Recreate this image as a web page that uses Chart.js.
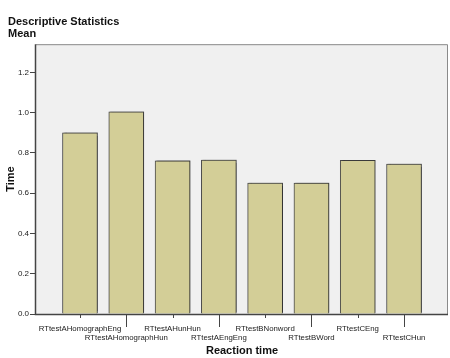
<!DOCTYPE html>
<html>
<head>
<meta charset="utf-8">
<script src="https://cdn.jsdelivr.net/npm/chart.js@4/dist/chart.umd.min.js"></script>
<style>
  html, body { margin: 0; padding: 0; background: #fff; }
  #wrap { width: 450px; height: 358px; }
</style>
</head>
<body>
<div id="wrap"><canvas id="myChart" width="450" height="358"></canvas></div>
<script>
// reading of the reference chart
const categories = ['RTtestAHomographEng', 'RTtestAHomographHun', 'RTtestAHunHun', 'RTtestAEngEng',
  'RTtestBNonword', 'RTtestBWord', 'RTtestCEng', 'RTtestCHun'];
const means = [0.900, 1.004, 0.761, 0.764, 0.650, 0.650, 0.763, 0.744];
const yTicks = [0.0, 0.2, 0.4, 0.6, 0.8, 1.0, 1.2];

const FONT = 'Liberation Sans, Arial, sans-serif';

// plot background, frame and the staggered x tick marks (SPSS style)
const frame = {
  id: 'frame',
  beforeDatasetsDraw(chart) {
    const { ctx, chartArea: a } = chart;
    ctx.save();
    ctx.fillStyle = '#f0f0f0';
    ctx.fillRect(a.left, a.top, a.right - a.left, a.bottom - a.top);
    ctx.restore();
    // soft shadow for bars
    ctx.save();
    ctx.shadowColor = 'rgba(0,0,0,0.35)';
    ctx.shadowOffsetX = 1.5;
    ctx.shadowOffsetY = -1;
    ctx.shadowBlur = 1.5;
  },
  afterDatasetsDraw(chart) {
    chart.ctx.restore();
  },
  afterDraw(chart) {
    const { ctx, chartArea: a, scales } = chart;
    ctx.save();
    ctx.strokeStyle = '#8a8a8a';
    ctx.lineWidth = 1;
    ctx.beginPath();
    ctx.moveTo(a.left, a.top + 0.5);
    ctx.lineTo(a.right - 0.5, a.top + 0.5);
    ctx.lineTo(a.right - 0.5, a.bottom);
    ctx.stroke();
    ctx.strokeStyle = '#444';
    ctx.lineWidth = 1.5;
    ctx.beginPath();
    ctx.moveTo(a.left - 0.5, a.top);
    ctx.lineTo(a.left - 0.5, a.bottom + 0.5);
    ctx.lineTo(a.right, a.bottom + 0.5);
    ctx.stroke();
    ctx.lineWidth = 1;
    categories.forEach((c, i) => {
      const x = Math.round(scales.x.getPixelForValue(i)) + 0.5;
      ctx.beginPath();
      ctx.moveTo(x, a.bottom);
      ctx.lineTo(x, a.bottom + (i % 2 ? 13 : 4));
      ctx.stroke();
    });
    ctx.restore();
  }
};

new Chart(document.getElementById('myChart'), {
  type: 'bar',
  data: {
    datasets: [{
      label: 'Mean',
      data: means.map((v, i) => ({ x: i, y: v })),
      backgroundColor: '#d3ce97',
      borderColor: '#4a4a4a',
      borderWidth: 1,
      barThickness: 35
    }]
  },
  plugins: [frame],
  options: {
    responsive: false,
    animation: false,
    devicePixelRatio: 1,
    layout: { padding: { left: 8, right: 2, top: 0, bottom: 0 } },
    plugins: {
      legend: { display: false },
      tooltip: { enabled: false },
      title: {
        display: true,
        text: ['Descriptive Statistics', 'Mean'],
        align: 'start',
        color: '#111',
        font: { family: FONT, size: 11, weight: 'bold', lineHeight: 1.1 },
        padding: { top: 16, bottom: 4 }
      }
    },
    scales: {
      x: {
        type: 'linear',
        offset: false,
        min: -0.95,
        max: 7.95,
        afterFit(s) { s.height = 44; },
        afterBuildTicks(s) { s.ticks = categories.map((c, i) => ({ value: i })); },
        grid: { display: false },
        border: { display: false },
        ticks: {
          autoSkip: false,
          maxRotation: 0,
          minRotation: 0,
          padding: 3,
          color: '#1a1a1a',
          font: { family: FONT, size: 7.8, lineHeight: 1.1 },
          callback: (v, i) => (i % 2 ? ['', categories[i]] : categories[i])
        },
        title: {
          display: true,
          text: 'Reaction time',
          color: '#111',
          font: { family: FONT, size: 11, weight: 'bold' },
          padding: { top: 0, bottom: 0 }
        }
      },
      y: {
        min: 0,
        max: 1.34,
        afterFit(s) { s.width = 28; },
        afterBuildTicks(s) { s.ticks = yTicks.map(v => ({ value: v })); },
        grid: { drawOnChartArea: false, tickLength: 6, color: '#444' },
        border: { display: false },
        ticks: {
          padding: 1,
          color: '#1a1a1a',
          font: { family: FONT, size: 8 },
          callback: v => v.toFixed(1)
        },
        title: {
          display: true,
          text: 'Time',
          color: '#111',
          font: { family: FONT, size: 11, weight: 'bold' },
          padding: { top: -4, bottom: 4 }
        }
      }
    }
  }
});
</script>
</body>
</html>
